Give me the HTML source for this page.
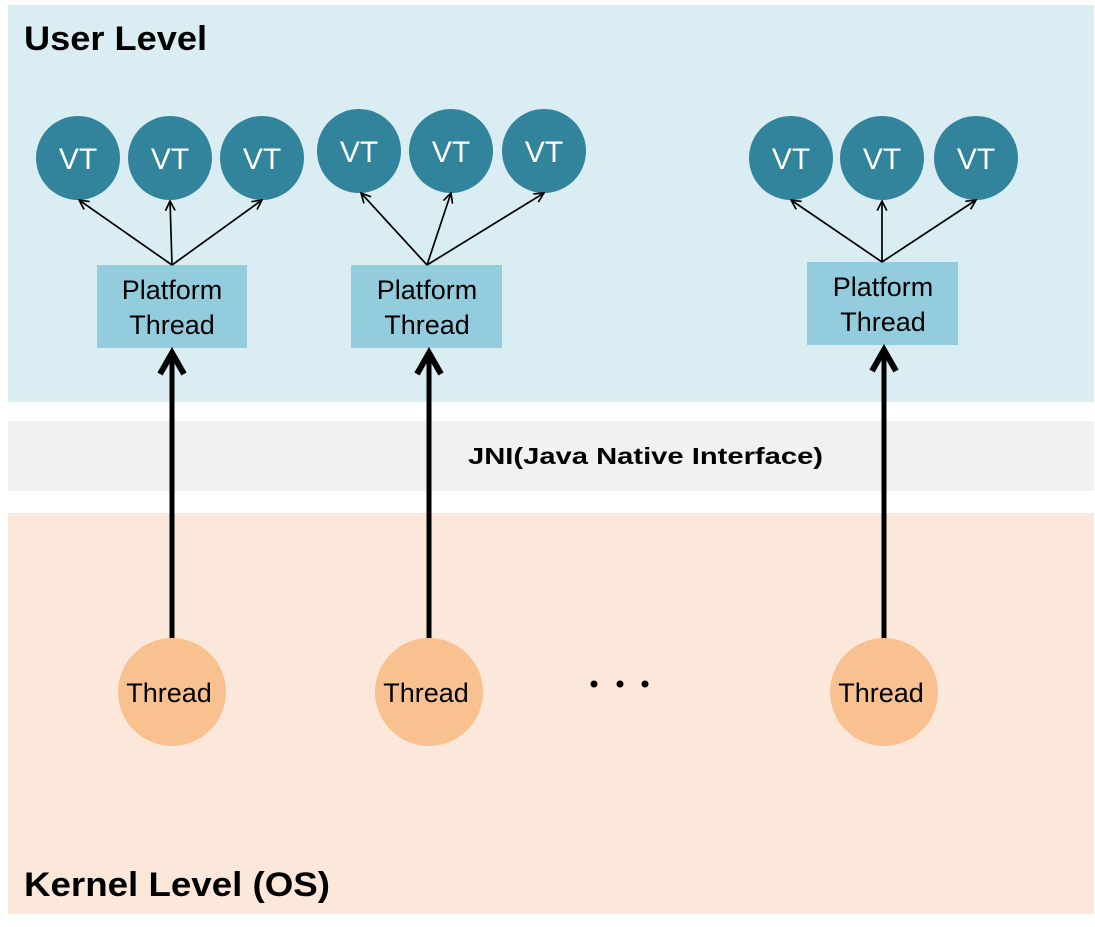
<!DOCTYPE html>
<html><head><meta charset="utf-8"><style>
html,body{margin:0;padding:0;background:#fff;}
svg{display:block;}
text{font-family:"Liberation Sans","Noto Sans CJK KR",sans-serif;}
</style></head><body>
<svg width="1095" height="927" viewBox="0 0 1095 927" xmlns="http://www.w3.org/2000/svg">
<defs>
<marker id="a" viewBox="0 0 10 10" refX="9" refY="5" markerWidth="12" markerHeight="12" markerUnits="userSpaceOnUse" orient="auto"><path d="M1,1 L9,5 L1,9" fill="none" stroke="#000" stroke-width="1.4"/></marker>
<marker id="b" viewBox="0 0 10 10" refX="8" refY="5" markerWidth="6" markerHeight="6" orient="auto"><path d="M1,1 L8,5 L1,9" fill="none" stroke="#000" stroke-width="2"/></marker>
</defs>
<rect x="8" y="5" width="1086" height="397" fill="#daedf3"/>
<rect x="8" y="421" width="1086" height="70" fill="#f1f1f1"/>
<rect x="8" y="513" width="1086" height="401" fill="#fce8da"/>
<text x="24" y="50" font-size="34" font-weight="bold" textLength="183" lengthAdjust="spacingAndGlyphs">User Level</text>
<text x="24" y="896" font-size="34" font-weight="bold" textLength="306" lengthAdjust="spacingAndGlyphs">Kernel Level (OS)</text>
<text x="468" y="464" font-size="23" font-weight="bold" textLength="355" lengthAdjust="spacingAndGlyphs">JNI(Java Native Interface)</text>
<g fill="#31849b">
<circle cx="78" cy="158" r="42"/><circle cx="170" cy="158" r="42"/><circle cx="262" cy="158" r="42"/>
<circle cx="359" cy="151" r="42"/><circle cx="451" cy="151" r="42"/><circle cx="544" cy="151" r="42"/>
<circle cx="791" cy="158" r="42"/><circle cx="882" cy="158" r="42"/><circle cx="976" cy="158" r="42"/>
</g>
<g fill="#fff" font-size="30" text-anchor="middle">
<text x="78" y="169">VT</text><text x="170" y="169">VT</text><text x="262" y="169">VT</text>
<text x="359" y="162">VT</text><text x="451" y="162">VT</text><text x="544" y="162">VT</text>
<text x="791" y="169">VT</text><text x="882" y="169">VT</text><text x="976" y="169">VT</text>
</g>
<g fill="#93cddd">
<rect x="97" y="265" width="150" height="83"/><rect x="351" y="265" width="151" height="83"/><rect x="807" y="262" width="151" height="83"/>
</g>
<g font-size="27" text-anchor="middle" fill="#000">
<text x="172" y="299">Platform</text><text x="172" y="334">Thread</text>
<text x="427" y="299">Platform</text><text x="427" y="334">Thread</text>
<text x="883" y="296">Platform</text><text x="883" y="331">Thread</text>
</g>
<g stroke="#000" stroke-width="1.7" fill="none" marker-end="url(#a)">
<line x1="172" y1="265" x2="79" y2="200"/><line x1="172" y1="265" x2="170" y2="201"/><line x1="172" y1="265" x2="262" y2="200"/>
<line x1="427" y1="265" x2="361" y2="193"/><line x1="427" y1="265" x2="451" y2="193"/><line x1="427" y1="265" x2="544" y2="193"/>
<line x1="882" y1="262" x2="791" y2="200"/><line x1="882" y1="262" x2="882" y2="201"/><line x1="882" y1="262" x2="976" y2="200"/>
</g>
<g stroke="#000" stroke-width="5" marker-end="url(#b)">
<line x1="172" y1="640" x2="172" y2="353"/><line x1="429" y1="640" x2="429" y2="353"/><line x1="884" y1="640" x2="884" y2="350"/>
</g>
<g fill="#f9c090">
<circle cx="172" cy="692" r="54"/><circle cx="429" cy="692" r="54"/><circle cx="884" cy="692" r="54"/>
</g>
<g font-size="27" text-anchor="middle" fill="#000">
<text x="169" y="702">Thread</text><text x="426" y="702">Thread</text><text x="881" y="702">Thread</text>
</g>
<g fill="#000"><circle cx="594" cy="684" r="3.5"/><circle cx="620" cy="684" r="3.5"/><circle cx="645" cy="684" r="3.5"/></g>
</svg>
</body></html>
